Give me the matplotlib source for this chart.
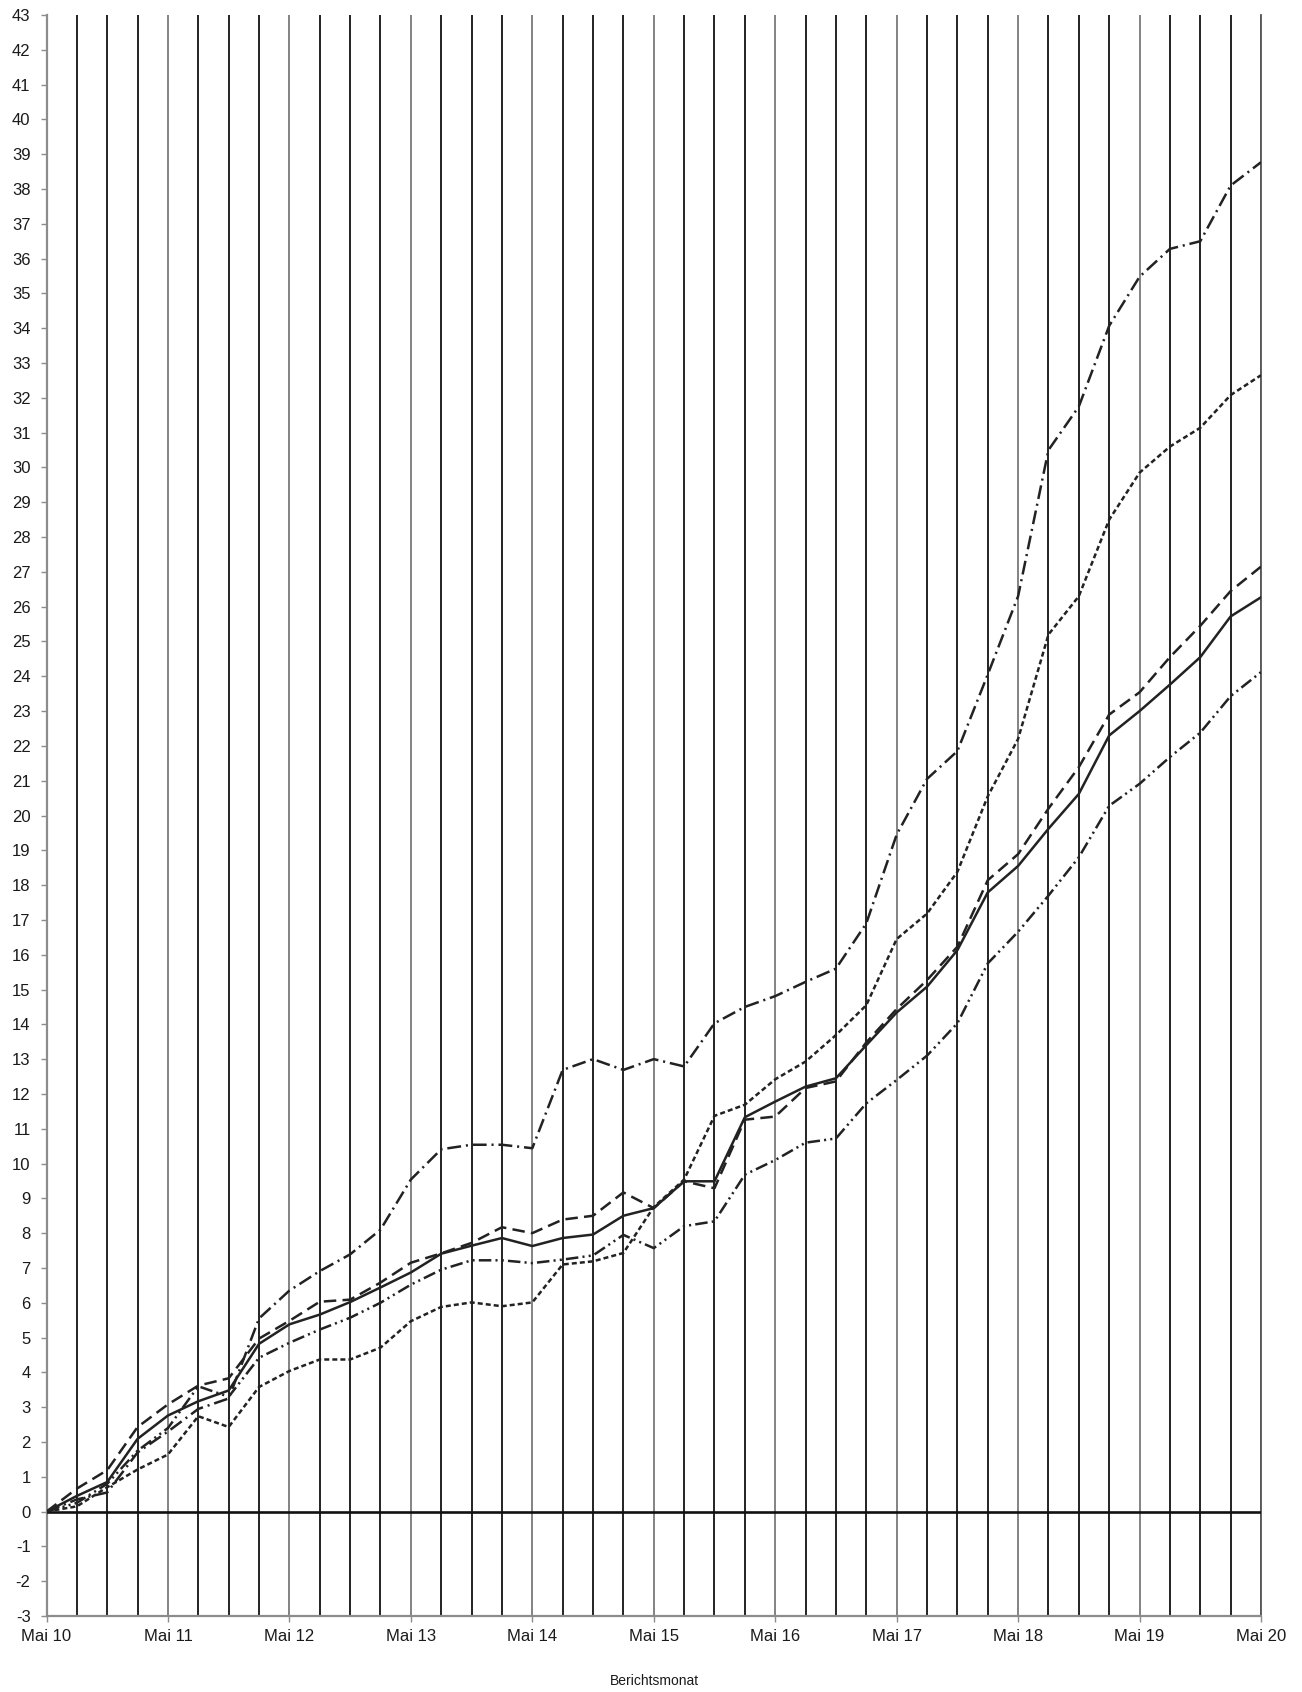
import numpy as np
import matplotlib.pyplot as plt

plt.rcParams['font.family'] = ['Liberation Sans', 'DejaVu Sans']
plt.rcParams['lines.scale_dashes'] = False
plt.rcParams['axes.unicode_minus'] = False

# --------- Data (quarterly, Mai 10 .. Mai 20) ---------
year_labels = ['Mai 10', 'Mai 11', 'Mai 12', 'Mai 13', 'Mai 14', 'Mai 15',
               'Mai 16', 'Mai 17', 'Mai 18', 'Mai 19', 'Mai 20']

solid = [0, 0.45, 0.85, 2.09, 2.76, 3.17, 3.48, 4.82, 5.38, 5.66,
         6.02, 6.44, 6.87, 7.41, 7.64, 7.86, 7.63, 7.86, 7.96, 8.5,
         8.72, 9.49, 9.49, 11.33, 11.78, 12.21, 12.45, 13.4, 14.34, 15.08,
         16.13, 17.79, 18.55, 19.62, 20.62, 22.3, 23.0, 23.76, 24.55, 25.72,
         26.27]

long_dash = [0, 0.66, 1.19, 2.43, 3.08, 3.62, 3.83, 4.97, 5.48, 6.03,
             6.09, 6.58, 7.15, 7.42, 7.72, 8.17, 8.0, 8.39, 8.5, 9.17,
             8.72, 9.49, 9.29, 11.26, 11.35, 12.17, 12.36, 13.48, 14.44, 15.27,
             16.23, 18.14, 18.89, 20.2, 21.39, 22.9, 23.54, 24.55, 25.45, 26.45,
             27.15]

dash_dot = [0, 0.35, 0.55, 1.7, 2.3, 2.95, 3.25, 5.55, 6.35, 6.91,
            7.39, 8.1, 9.54, 10.41, 10.54, 10.54, 10.44, 12.69, 13.0, 12.69,
            13.0, 12.79, 14.03, 14.5, 14.81, 15.22, 15.6, 16.9, 19.45, 21.05,
            21.85, 24.05, 26.3, 30.5, 31.75, 34.07, 35.48, 36.28, 36.5, 38.1,
            38.77]

short_dash = [0, 0.15, 0.7, 1.21, 1.64, 2.74, 2.43, 3.58, 4.04, 4.37,
              4.37, 4.71, 5.47, 5.88, 6.01, 5.9, 6.01, 7.1, 7.19, 7.43,
              8.75, 9.54, 11.37, 11.69, 12.42, 12.93, 13.69, 14.55, 16.45, 17.18,
              18.38, 20.55, 22.2, 25.2, 26.3, 28.5, 29.85, 30.6, 31.14, 32.08,
              32.65]

dash_dot_dot = [0, 0.25, 0.8, 1.75, 2.4, 3.6, 3.3, 4.42, 4.85, 5.23,
                5.57, 6.0, 6.52, 6.95, 7.22, 7.22, 7.14, 7.24, 7.36, 7.95,
                7.57, 8.2, 8.34, 9.68, 10.1, 10.6, 10.72, 11.73, 12.4, 13.1,
                14.03, 15.75, 16.66, 17.7, 18.8, 20.28, 20.91, 21.68, 22.38, 23.43,
                24.12]

quarters = np.arange(len(solid))

# --------- Figure ---------
fig = plt.figure(figsize=(13.02, 16.92), dpi=100)
ax = fig.add_axes([46.5 / 1302, 1 - 1616 / 1692, (1261 - 46.5) / 1302, (1616 - 15) / 1692])

line_color = '#222222'
styles = [
    (solid, '-'),
    (long_dash, (0, (9, 4.5))),
    (dash_dot, (0, (10, 3.5, 1.5, 3.5))),
    (short_dash, (0, (3.6, 2.2))),
    (dash_dot_dot, (0, (9, 3, 1.5, 3, 1.5, 3))),
]
for values, ls in styles:
    ax.plot(quarters, values, color=line_color, linestyle=ls, linewidth=1.8, zorder=4)

ax.axhline(0, color='#111111', linewidth=1.9, zorder=3)

ax.set_xlim(0, 40)
ax.set_ylim(-3, 43)

ax.set_xticks(np.arange(0, 41, 4))
ax.set_xticklabels(year_labels)
ax.set_xticks(quarters, minor=True)
ax.set_yticks(np.arange(-3, 44, 1))

ax.grid(which='minor', axis='x', color='#111111', linewidth=1.3, zorder=1)
ax.grid(which='major', axis='x', color='#7a7a7a', linewidth=1.3, zorder=1)
ax.grid(which='major', axis='y', visible=False)

ax.spines['top'].set_visible(False)
ax.spines['right'].set_color('#555555')
ax.spines['right'].set_linewidth(1.3)
for side in ['left', 'bottom']:
    ax.spines[side].set_color('#8c8c8c')
    ax.spines[side].set_linewidth(1.6)

ax.tick_params(which='minor', length=0)
ax.tick_params(axis='y', which='major', length=4.5, width=1, color='#8c8c8c',
               labelsize=12, pad=7, labelcolor='#1a1a1a')
ax.tick_params(axis='x', which='major', length=4.5, width=1, color='#8c8c8c',
               labelsize=12, pad=5, labelcolor='#1a1a1a')

fig.text(654 / 1302, 1 - 1681 / 1692, 'Berichtsmonat', ha='center', va='center',
         fontsize=10, color='#1a1a1a')

fig.savefig('out.png', dpi=100)
